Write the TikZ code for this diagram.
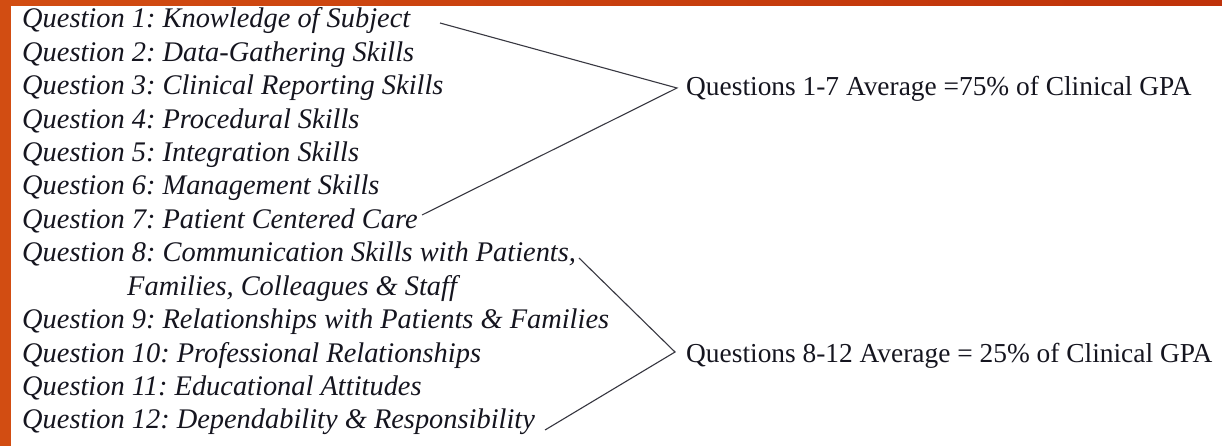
\documentclass[tikz,border=0pt]{standalone}
\usepackage{fontspec}
\setmainfont{Liberation Serif}
\usetikzlibrary{positioning}
\definecolor{frame}{HTML}{D24D12}
\definecolor{framedark}{HTML}{BF320A}
\definecolor{ink}{HTML}{15151F}
\frenchspacing

\tikzset{
    question/.style={anchor=base west,inner sep=0pt,text=ink,
                     font=\itshape\fontsize{28.4}{33}\selectfont},
    summary/.style={anchor=base west,inner sep=0pt,text=ink,
                    font=\fontsize{27.4}{33}\selectfont},
    groupline/.style={draw=ink!85,line width=1.1pt}
}

\begin{document}
\begin{tikzpicture}[x=1pt,y=-1pt]
    \useasboundingbox (0,0) rectangle (1222,446);
    % orange frame behind the white slide
    \shade[left color=frame,right color=framedark] (0,0) rectangle (1222,446);
    \fill[white] (11,6) rectangle (1222,446);

    % list of questions
    \node[question] (q1)  at (22,28.0)  {Question 1: Knowledge of Subject};
    \node[question] (q2)  at (22,61.4)  {Question 2: Data-Gathering Skills};
    \node[question] (q3)  at (22,94.8)  {Question 3: Clinical Reporting Skills};
    \node[question] (q4)  at (22,128.2) {Question 4: Procedural Skills};
    \node[question] (q5)  at (22,161.6) {Question 5: Integration Skills};
    \node[question] (q6)  at (22,195.0) {Question 6: Management Skills};
    \node[question] (q7)  at (22,228.4) {Question 7: Patient Centered Care};
    \node[question] (q8)  at (22,261.8) {Question 8: Communication Skills with Patients,};
    \node[question] (q8b) at (127,295.2) {Families, Colleagues \& Staff};
    \node[question] (q9)  at (22,328.6) {Question 9: Relationships with Patients \& Families};
    \node[question] (q10) at (22,362.0) {Question 10: Professional Relationships};
    \node[question] (q11) at (22,395.4) {Question 11: Educational Attitudes};
    \node[question] (q12) at (22,428.8) {Question 12: Dependability \& Responsibility};

    % weights
    \node[summary] (avg1) at (686,96)  {Questions 1-7 Average =75\% of Clinical GPA};
    \node[summary] (avg2) at (686,362) {Questions 8-12 Average = 25\% of Clinical GPA};

    \coordinate (tip1) at (677,88);
    \coordinate (top1) at (440,23);
    \coordinate (bot1) at (422,215);
    \coordinate (tip2) at (675,352);
    \coordinate (top2) at (579,258);
    \coordinate (bot2) at (545,430);

    \draw[groupline] (top1) -- (tip1) -- (bot1);
    \draw[groupline] (top2) -- (tip2) -- (bot2);
\end{tikzpicture}
\end{document}
